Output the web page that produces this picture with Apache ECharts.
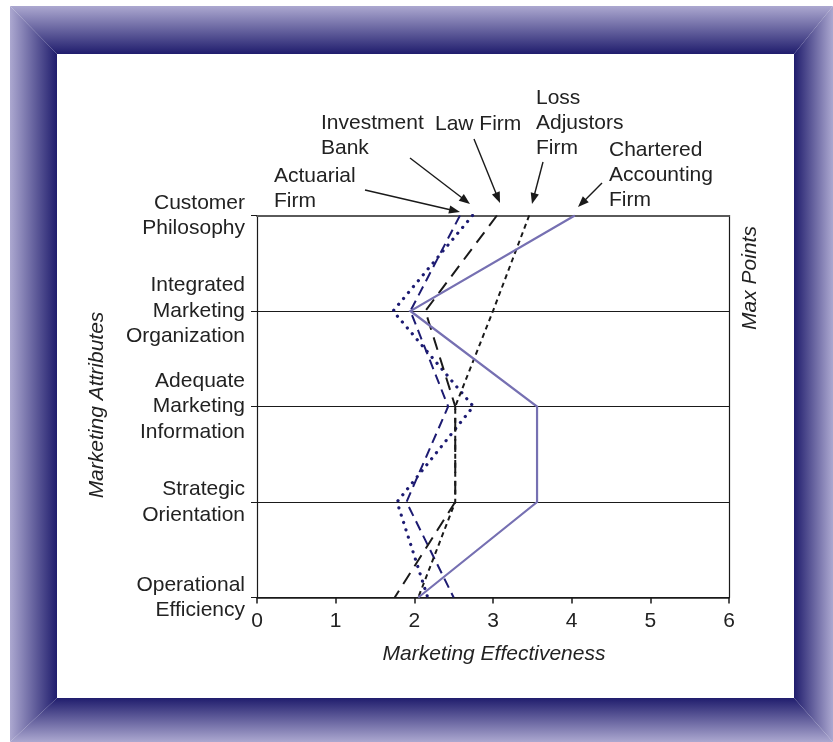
<!DOCTYPE html>
<html>
<head>
<meta charset="utf-8">
<script src="https://cdn.jsdelivr.net/npm/echarts@6/dist/echarts.min.js"></script>
<style>
  html, body { margin: 0; padding: 0; background: #ffffff; }
  #chart { width: 833px; height: 742px; }
</style>
</head>
<body>
<div id="chart"></div>
<script>
// ---- Data ----
const categories = [
  'Customer Philosophy',
  'Integrated Marketing Organization',
  'Adequate Marketing Information',
  'Strategic Orientation',
  'Operational Efficiency'
];
const xMin = 0, xMax = 6, xStep = 1;
const seriesNames = ['Actuarial Firm', 'Investment Bank', 'Law Firm', 'Loss Adjustors Firm', 'Chartered Accounting Firm'];
const actuarialFirm       = [2.58, 1.95, 2.43, 1.90, 2.50];
const investmentBank      = [2.74, 1.73, 2.75, 1.78, 2.17];
const lawFirm             = [3.05, 2.14, 2.52, 2.52, 1.75];
const lossAdjustorsFirm   = [3.46, 3.00, 2.52, 2.52, 2.05];
const charteredAccounting = [4.04, 1.95, 3.56, 3.56, 2.05];
const xAxisTitle = 'Marketing Effectiveness';
const yAxisTitle = 'Marketing Attributes';
const rightAxisTitle = 'Max Points';

// ---- Chart ----
const FONT = '"Liberation Sans", Arial, Helvetica, sans-serif';
const FS = 21;
const chart = echarts.init(document.getElementById('chart'), null, { renderer: 'canvas' });

function pairs(vals) { return vals.map((v, i) => [v, categories[i]]); }

const NAVY = '#1d1b72';
const BLACK = '#1a1a1a';
const PURPLE = '#7670b2';

const seriesStyles = [
  { color: NAVY,   width: 2,   type: [10, 6], cap: 'butt' },
  { color: NAVY,   width: 3.2, type: [0.1, 7.6], cap: 'round' },
  { color: BLACK,  width: 2,   type: [13, 8], cap: 'butt' },
  { color: BLACK,  width: 2,   type: [5, 4], cap: 'butt' },
  { color: PURPLE, width: 2.2, type: 'solid', cap: 'butt' }
];
const seriesValues = [actuarialFirm, investmentBank, lawFirm, lossAdjustorsFirm, charteredAccounting];

const series = seriesValues.map((vals, i) => ({
  name: seriesNames[i],
  type: 'line',
  xAxisIndex: 0,
  yAxisIndex: 0,
  data: pairs(vals),
  symbol: 'none',
  silent: true,
  animation: false,
  z: 3 + i,
  lineStyle: {
    color: seriesStyles[i].color,
    width: seriesStyles[i].width,
    type: seriesStyles[i].type,
    cap: seriesStyles[i].cap,
    join: 'miter'
  }
}));

// ---- Frame (bevelled picture frame) ----
const FR = { ox1: 10, oy1: 6, ox2: 833, oy2: 742, ix1: 57, iy1: 54, ix2: 794, iy2: 698 };
const LIGHT = '#aca8d0';
const DARK = '#201d6d';
function grad(x, y, x2, y2, c0, c1) {
  return new echarts.graphic.LinearGradient(x, y, x2, y2, [{ offset: 0, color: c0 }, { offset: 1, color: c1 }], true);
}
const frame = [
  { type: 'polygon', shape: { points: [[FR.ox1, FR.oy1], [FR.ox2, FR.oy1], [FR.ix2, FR.iy1], [FR.ix1, FR.iy1]] },
    style: { fill: grad(0, FR.oy1, 0, FR.iy1, LIGHT, DARK) }, silent: true, z: 0 },
  { type: 'polygon', shape: { points: [[FR.ix1, FR.iy2], [FR.ix2, FR.iy2], [FR.ox2, FR.oy2], [FR.ox1, FR.oy2]] },
    style: { fill: grad(0, FR.iy2, 0, FR.oy2, DARK, LIGHT) }, silent: true, z: 0 },
  { type: 'polygon', shape: { points: [[FR.ox1, FR.oy1], [FR.ix1, FR.iy1], [FR.ix1, FR.iy2], [FR.ox1, FR.oy2]] },
    style: { fill: grad(FR.ox1, 0, FR.ix1, 0, LIGHT, DARK) }, silent: true, z: 0 },
  { type: 'polygon', shape: { points: [[FR.ix2, FR.iy1], [FR.ox2, FR.oy1], [FR.ox2, FR.oy2], [FR.ix2, FR.iy2]] },
    style: { fill: grad(FR.ix2, 0, FR.ox2, 0, DARK, LIGHT) }, silent: true, z: 0 }
];

// ---- Annotations (labels with arrows) ----
const annotationLayout = [
  { text: 'Actuarial\nFirm',                 x: 274, y: 188.5, tail: [365, 190], head: [460, 212] },
  { text: 'Investment\nBank',                x: 321, y: 136,   tail: [410, 158], head: [470, 204] },
  { text: 'Law Firm',                        x: 435, y: 124,   tail: [474, 139], head: [500, 203] },
  { text: 'Loss\nAdjustors\nFirm',           x: 536, y: 123.5, tail: [543, 162], head: [532, 204] },
  { text: 'Chartered\nAccounting\nFirm',     x: 609, y: 175.5, tail: [602, 183], head: [578, 207] }
];
function arrow(t, h) {
  const dx = h[0] - t[0], dy = h[1] - t[1];
  const L = Math.sqrt(dx * dx + dy * dy);
  const ux = dx / L, uy = dy / L;
  const hl = 11, hw = 4.2;
  const bx = h[0] - ux * hl, by = h[1] - uy * hl;
  return [
    { type: 'line', shape: { x1: t[0], y1: t[1], x2: bx + ux * 2, y2: by + uy * 2 },
      style: { stroke: BLACK, lineWidth: 1.4 }, silent: true, z: 10 },
    { type: 'polygon', shape: { points: [[h[0], h[1]], [bx - uy * hw, by + ux * hw], [bx + uy * hw, by - ux * hw]] },
      style: { fill: BLACK }, silent: true, z: 10 }
  ];
}
const annotations = [];
annotationLayout.forEach(a => {
  annotations.push({
    type: 'text', x: a.x, y: a.y, silent: true, z: 10,
    style: { text: a.text, fill: '#222', font: 'normal ' + FS + 'px ' + FONT, lineHeight: 25,
             align: 'left', verticalAlign: 'middle' }
  });
  arrow(a.tail, a.head).forEach(g => annotations.push(g));
});

const titles = [
  { type: 'text', x: 494, y: 654, silent: true, z: 10,
    style: { text: xAxisTitle, fill: '#222', font: 'italic ' + FS + 'px ' + FONT, align: 'center', verticalAlign: 'middle' } },
  { type: 'text', x: 97, y: 405, rotation: Math.PI / 2, silent: true, z: 10,
    style: { text: yAxisTitle, fill: '#222', font: 'italic ' + FS + 'px ' + FONT, align: 'center', verticalAlign: 'middle' } },
  { type: 'text', x: 750, y: 278, rotation: Math.PI / 2, silent: true, z: 10,
    style: { text: rightAxisTitle, fill: '#222', font: 'italic ' + FS + 'px ' + FONT, align: 'center', verticalAlign: 'middle' } }
];

const option = {
  animation: false,
  backgroundColor: '#ffffff',
  textStyle: { fontFamily: FONT },
  grid: { left: 257, top: 215.5, width: 472, height: 382, containLabel: false, outerBoundsMode: 'none' },
  xAxis: [
    {
      type: 'value', position: 'bottom', min: xMin, max: xMax, interval: xStep,
      axisLine: { show: true, onZero: false, lineStyle: { color: BLACK, width: 1.5 } },
      axisTick: { show: true, inside: false, length: 6, lineStyle: { color: BLACK, width: 1.5 } },
      axisLabel: { show: true, color: '#222', fontSize: FS, fontFamily: FONT, margin: 13 },
      splitLine: { show: false }
    },
    {
      type: 'value', position: 'top', min: xMin, max: xMax, interval: xStep,
      axisLine: { show: true, onZero: false, lineStyle: { color: '#5a5a5a', width: 2 } },
      axisTick: { show: false }, axisLabel: { show: false }, splitLine: { show: false }
    }
  ],
  yAxis: [
    {
      type: 'category', data: categories, inverse: true, boundaryGap: false, position: 'left',
      axisLine: { show: true, onZero: false, lineStyle: { color: BLACK, width: 1.2 } },
      axisTick: { show: true, inside: false, length: 6, lineStyle: { color: BLACK, width: 1 } },
      axisLabel: {
        show: true, color: '#222', fontSize: FS, fontFamily: FONT, lineHeight: 25.5, margin: 12, align: 'right',
        formatter: v => v.split(' ').join('\n')
      },
      splitLine: { show: true, lineStyle: { color: BLACK, width: 1.2 } }
    },
    {
      type: 'category', data: categories, inverse: true, boundaryGap: false, position: 'right',
      axisLine: { show: true, onZero: false, lineStyle: { color: BLACK, width: 1.2 } },
      axisTick: { show: false }, axisLabel: { show: false }, splitLine: { show: false }
    }
  ],
  series: series,
  graphic: { elements: frame.concat(annotations).concat(titles) }
};
chart.setOption(option);
</script>
</body>
</html>
